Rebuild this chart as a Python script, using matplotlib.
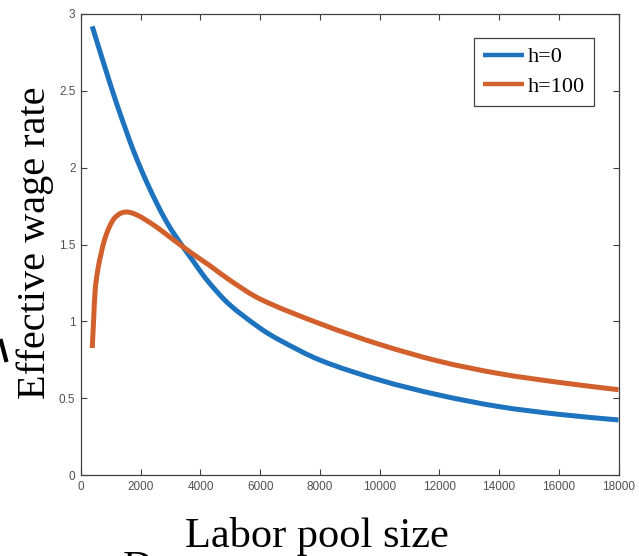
import numpy as np
import matplotlib.pyplot as plt
from matplotlib.lines import Line2D
from matplotlib.path import Path
from matplotlib.patches import PathPatch

# Valores
x_h0 = [376, 622, 847, 1069, 1294, 1518, 1741, 2000, 2190, 2527, 2863, 3199,
        3535, 3757, 4000, 4318, 4967, 6000, 6633, 8000, 10000, 12000, 14000,
        16000, 18000]
w_h0 = [2.92, 2.765, 2.625, 2.49, 2.36, 2.237, 2.118, 1.995, 1.91, 1.772,
        1.648, 1.545, 1.452, 1.392, 1.325, 1.245, 1.11, 0.955, 0.88, 0.748,
        0.618, 0.52, 0.445, 0.395, 0.358]

x_h100 = [376, 420, 477, 565, 679, 790, 958, 1126, 1350, 1573, 1855, 2190,
          2527, 2863, 3310, 3757, 4000, 4318, 4967, 6000, 8000, 10000,
          12000, 14000, 16000, 18000]
w_h100 = [0.826, 0.994, 1.209, 1.338, 1.446, 1.532, 1.618, 1.673, 1.705, 1.711,
          1.694, 1.657, 1.614, 1.565, 1.50, 1.437, 1.404, 1.362, 1.27, 1.145,
          0.985, 0.85, 0.74, 0.66, 0.603, 0.555]

labels = ['h=0', 'h=100']
colores = ['#1E73BE', '#D2602D']

x_ticks = np.arange(0, 18001, 2000)
y_ticks = [0, 0.5, 1, 1.5, 2, 2.5, 3]
y_tick_labels = ['0', '0.5', '1', '1.5', '2', '2.5', '3']

W, H = 639, 556
AX_W, AX_H = 537.5, 461


def curva_suave(xs, ys):
    # trazo Bezier que pasa por los puntos leidos (solo para dibujar)
    p = np.column_stack([xs, ys]).astype(float)
    q = p / [18000 / AX_W, 3 / AX_H]
    d = np.r_[0, np.cumsum(np.hypot(*np.diff(q, axis=0).T))]
    m = np.zeros_like(p)
    m[0] = (p[1] - p[0]) / (d[1] - d[0])
    m[-1] = (p[-1] - p[-2]) / (d[-1] - d[-2])
    m[1:-1] = (p[2:] - p[:-2]) / (d[2:] - d[:-2])[:, None]
    verts = [p[0]]
    codes = [Path.MOVETO]
    for i in range(len(p) - 1):
        h = d[i + 1] - d[i]
        verts += [p[i] + m[i] * h / 3, p[i + 1] - m[i + 1] * h / 3, p[i + 1]]
        codes += [Path.CURVE4] * 3
    return Path(verts, codes)


fig = plt.figure(figsize=(W / 100, H / 100), dpi=100)
ax = fig.add_axes([81 / W, 1 - 475 / H, AX_W / W, AX_H / H])

for xs, ys, c in [(x_h0, w_h0, colores[0]), (x_h100, w_h100, colores[1])]:
    ax.add_patch(PathPatch(curva_suave(xs, ys), fill=False, ec=c, lw=3.6,
                           capstyle='butt', joinstyle='round'))

ax.set_xlim(0, 18000)
ax.set_ylim(0, 3)
ax.set_xticks(x_ticks)
ax.set_xticklabels([str(v) for v in x_ticks])
ax.set_yticks(y_ticks)
ax.set_yticklabels(y_tick_labels)

for s in ax.spines.values():
    s.set_color('#404040')
    s.set_linewidth(0.9)
ax.tick_params(direction='in', top=True, right=True, length=4, width=0.8,
               color='#404040', labelcolor='#505050', labelsize=8.5, pad=4)
for t in ax.get_xticklabels() + ax.get_yticklabels():
    t.set_family('Liberation Sans')

handles = [Line2D([], [], color=c, lw=3.2, solid_capstyle='butt') for c in colores]
leg = ax.legend(handles, labels, loc='upper right', bbox_to_anchor=(0.954, 0.948),
                borderaxespad=0, prop={'family': 'Liberation Serif', 'size': 16},
                fancybox=False, edgecolor='#404040', framealpha=1,
                handlelength=1.85, handletextpad=0.15, labelspacing=0.4,
                borderpad=0.4)
leg.get_frame().set_linewidth(0.9)

# Etiquetas de ejes
fig.text(317 / W, 1 - 547 / H, 'Labor pool size', family='Liberation Serif',
         fontsize=30.5, ha='center', va='baseline')
fig.text(35 / W, 1 - 243 / H, 'Effective wage rate', family='Liberation Serif',
         fontsize=29, ha='center', va='center', rotation=90)

# restos recortados de la diapositiva
fig.text(123 / W, 1 - 551 / H, 'D', family='Liberation Serif', fontsize=30,
         ha='left', va='top')
fig.add_artist(Line2D([1 / W, 6 / W], [1 - 341 / H, 1 - 360 / H], color='black',
                      lw=3, transform=fig.transFigure))

fig.savefig('out.png', dpi=100)
